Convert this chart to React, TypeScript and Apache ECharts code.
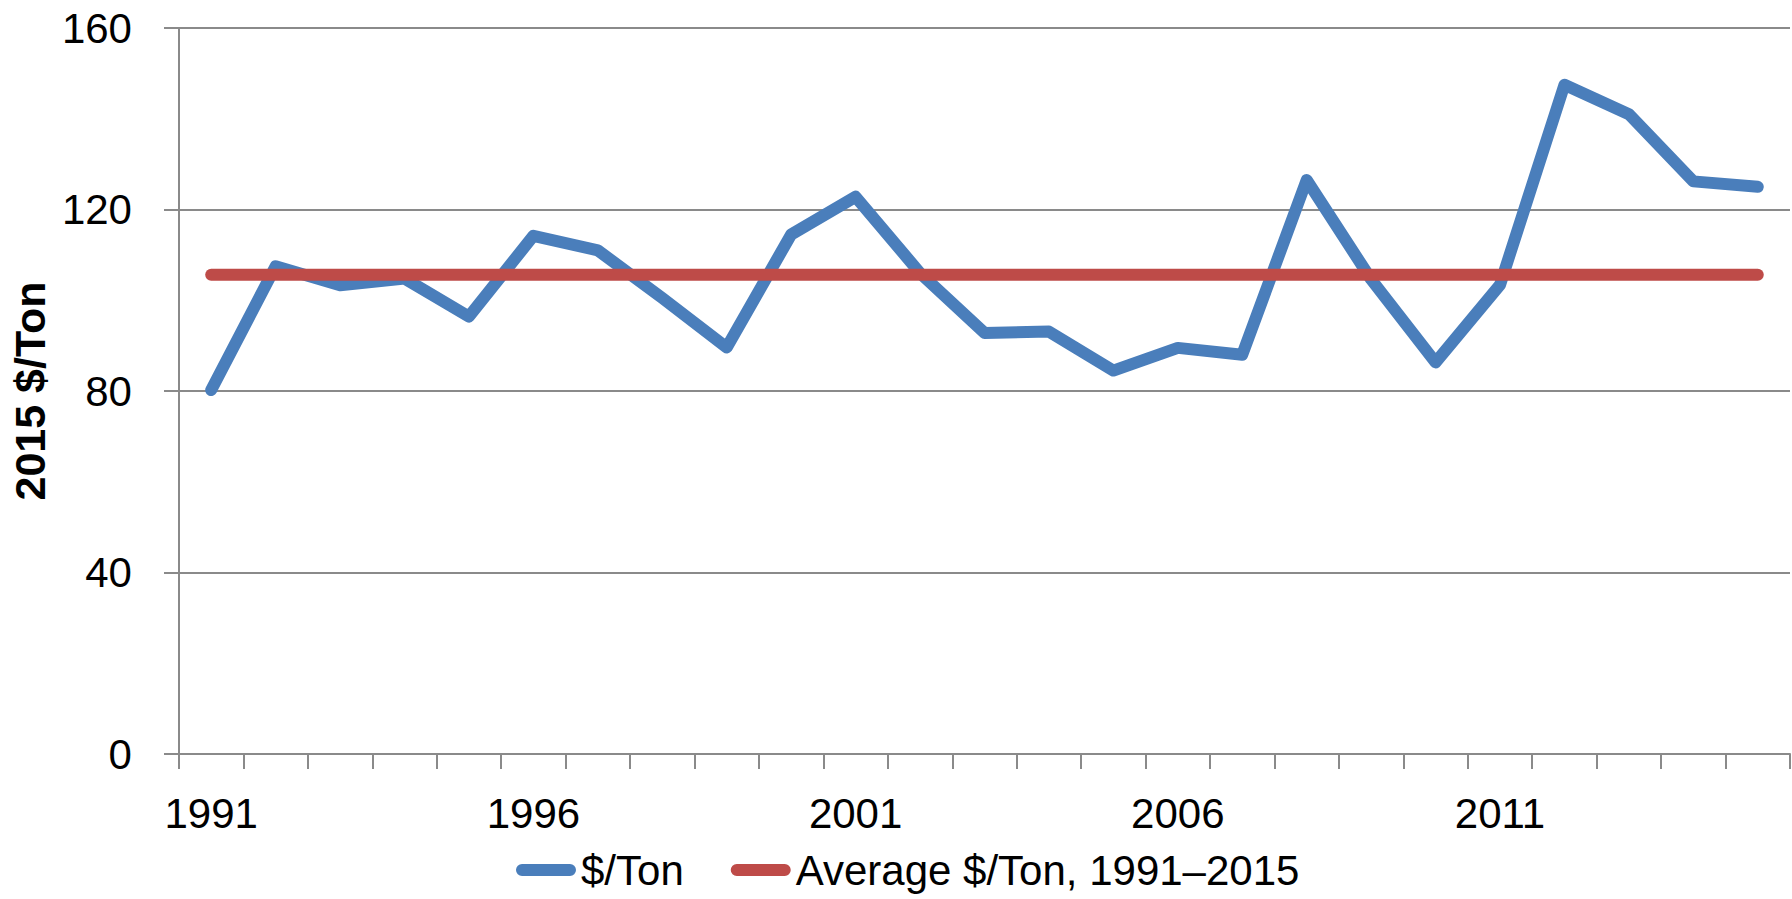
import React, { useEffect, useRef } from "react";
import * as echarts from "echarts";

const years: string[] = [
  "1991", "1992", "1993", "1994", "1995", "1996", "1997", "1998", "1999", "2000",
  "2001", "2002", "2003", "2004", "2005", "2006", "2007", "2008", "2009", "2010",
  "2011", "2012", "2013", "2014", "2015",
];

const pricePerTon: number[] = [
  80.2, 107.5, 103.3, 104.8, 96.4, 114.2, 111.0, 100.5, 89.6, 114.5,
  122.8, 106.0, 92.8, 93.1, 84.5, 89.5, 88.0, 126.5, 104.6, 86.3,
  103.4, 147.5, 141.0, 126.2, 125.0,
];

const averagePerTon = 105.6;

const yTicks = { min: 0, max: 160, interval: 40 };

const seriesNames = ["$/Ton", "Average $/Ton, 1991\u20132015"];

const FONT = "'Liberation Sans', Arial, sans-serif";
const GRID_COLOR = "#8a8a8a";

export default function App() {
  const ref = useRef<HTMLDivElement>(null);

  useEffect(() => {
    if (!ref.current) return;
    const chart = echarts.init(ref.current, null, { renderer: "svg" });
    const iconPath = "path://M6,0 L54,0 A6,6 0 0 1 54,12 L6,12 A6,6 0 0 1 6,0 Z";
    chart.setOption({
      animation: false,
      backgroundColor: "#ffffff",
      textStyle: { fontFamily: FONT },
      grid: { left: 175, right: 2, top: 28, bottom: 145, containLabel: false },
      legend: {
        data: seriesNames,
        left: 516,
        top: 849,
        padding: 0,
        itemGap: 47,
        itemWidth: 60,
        itemHeight: 13,
        icon: iconPath,
        textStyle: { fontSize: 42, color: "#000", fontFamily: FONT },
      },
      xAxis: {
        type: "category",
        data: years,
        boundaryGap: true,
        axisLine: { show: true, lineStyle: { color: GRID_COLOR, width: 2 } },
        axisTick: { show: true, interval: 0, length: 15, lineStyle: { color: GRID_COLOR, width: 2 } },
        axisLabel: { interval: 4, fontSize: 42, color: "#000", margin: 38, fontFamily: FONT },
        splitLine: { show: false },
      },
      yAxis: {
        type: "value",
        min: yTicks.min,
        max: yTicks.max,
        interval: yTicks.interval,
        name: "2015 $/Ton",
        nameLocation: "middle",
        nameRotate: 90,
        nameGap: 114,
        nameTextStyle: { fontSize: 43, fontWeight: "bold", color: "#000", fontFamily: FONT },
        axisLine: { show: true, lineStyle: { color: GRID_COLOR, width: 2 } },
        axisTick: { show: true, length: 15, lineStyle: { color: GRID_COLOR, width: 2 } },
        axisLabel: { fontSize: 42, color: "#000", margin: 47, fontFamily: FONT },
        splitLine: { show: true, lineStyle: { color: GRID_COLOR, width: 2 } },
      },
      series: [
        {
          name: seriesNames[0],
          type: "line",
          data: pricePerTon,
          symbol: "none",
          color: "#4A7EBB",
          lineStyle: { width: 12, color: "#4A7EBB", cap: "round", join: "round" },
        },
        {
          name: seriesNames[1],
          type: "line",
          data: years.map(() => averagePerTon),
          symbol: "none",
          color: "#BE4B48",
          lineStyle: { width: 12, color: "#BE4B48", cap: "round", join: "round" },
        },
      ],
    });
    return () => chart.dispose();
  }, []);

  return (
    <div
      ref={ref}
      style={{ position: "fixed", left: 0, top: 0, width: 1792, height: 899, background: "#fff" }}
    />
  );
}
